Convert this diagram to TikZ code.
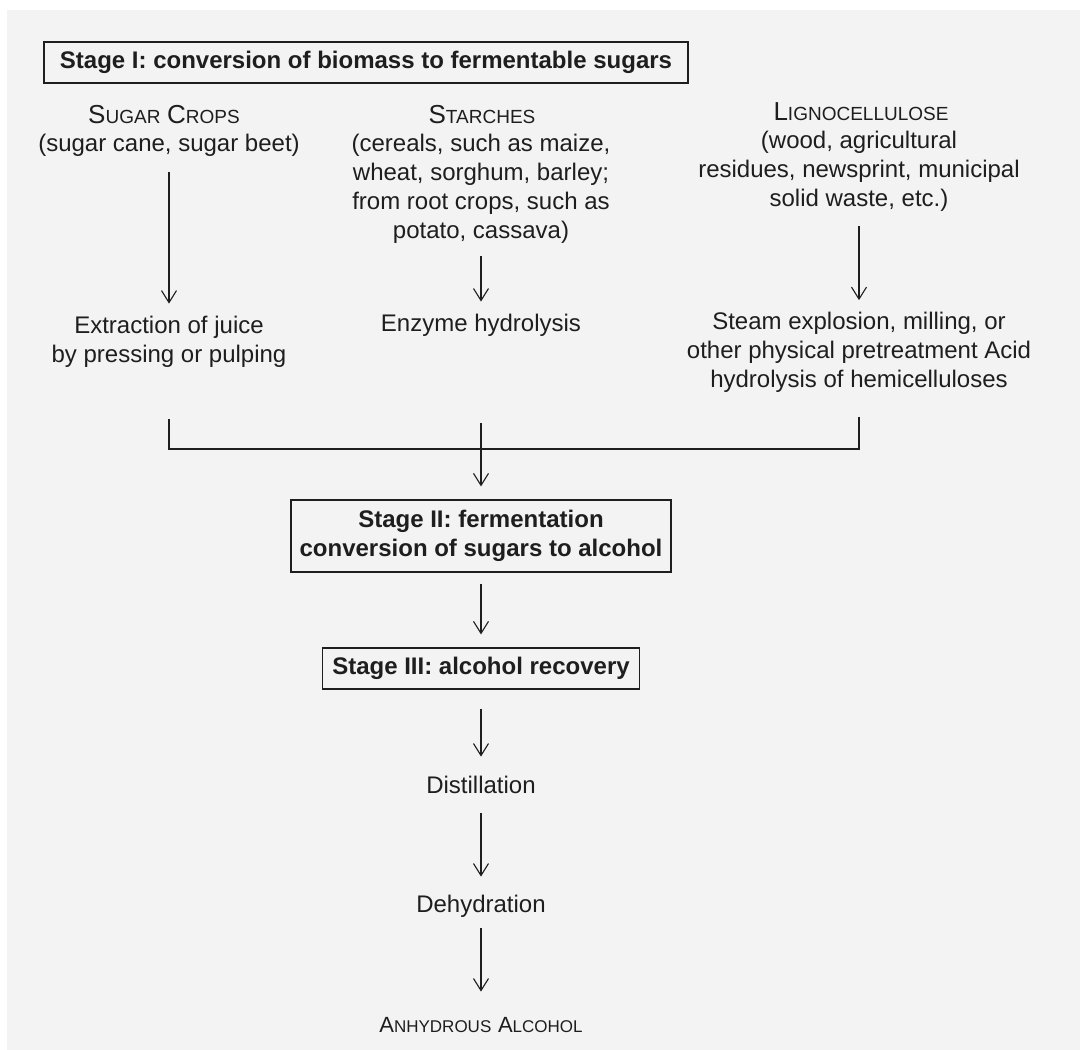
\documentclass[tikz,border=0pt]{standalone}
\usepackage{fontspec}
\setmainfont{Liberation Sans}
\usetikzlibrary{arrows.meta}
\definecolor{paper}{HTML}{F3F3F3}
\definecolor{ink}{HTML}{1E1E1E}
\newcommand{\scword}[2]{{\fontsize{26}{29}\selectfont #1}{\fontsize{19}{29}\selectfont #2}}
\newcommand{\scwordlow}[2]{{\fontsize{22}{29}\selectfont #1}{\fontsize{17}{29}\selectfont #2}}

\begin{document}
\begin{tikzpicture}[x=1pt,y=-1pt,
  txt/.style={align=center,inner sep=0pt,text=ink,font=\fontsize{24}{29}\selectfont},
  oneline/.style={txt,text height=17.5pt,text depth=5pt},
  stagebox/.style={draw=ink,line width=1.2pt,inner sep=0pt,align=center,text=ink,
    font=\fontsize{24}{29}\selectfont\bfseries},
  flow/.style={draw=ink,line width=1.1pt,-{Straight Barb[length=12pt,width=15pt]}},
  joint/.style={draw=ink,line width=1.1pt}]
\useasboundingbox (0,0) rectangle (1080,1050);
\fill[white] (0,0) rectangle (1080,1050);
\fill[paper] (7,10) rectangle (1080,1050);

\node[stagebox,minimum width=644pt,minimum height=41pt] (stageone) at (366,62.5)
  {Stage I: conversion of biomass to fermentable sugars};

\node[txt] (sugarhd) at (164,115) {\scword{S}{UGAR} \scword{C}{ROPS}};
\node[txt] (sugartxt) at (169,145) {(sugar cane, sugar beet)};
\node[txt] (starchhd) at (482,115) {\scword{S}{TARCHES}};
\node[txt] (starchtxt) at (481,188.5) {(cereals, such as maize,\\wheat, sorghum, barley;\\from root crops, such as\\potato, cassava)};
\node[txt] (lignohd) at (861,112) {\scword{L}{IGNOCELLULOSE}};
\node[txt] (lignotxt) at (859,171.5) {(wood, agricultural\\residues, newsprint, municipal\\solid waste, etc.)};

\node[txt] (extract) at (169,341.5) {Extraction of juice\\by pressing or pulping};
\node[oneline] (enzyme) at (481,325) {Enzyme hydrolysis};
\node[txt] (steam) at (859,352.5) {Steam explosion, milling, or\\other physical pretreatment Acid\\hydrolysis of hemicelluloses};

\node[stagebox,minimum width=380pt,minimum height=72pt] (stagetwo) at (481,536)
  {Stage II: fermentation\\conversion of sugars to alcohol};
\node[stagebox,minimum width=317pt,minimum height=41pt] (stagethree) at (481,668.5)
  {Stage III: alcohol recovery};

\node[oneline] (distil) at (481,787) {Distillation};
\node[oneline] (dehyd) at (481,906) {Dehydration};
\node[oneline] (anhyd) at (481,1026) {\scwordlow{A}{NHYDROUS} \scwordlow{A}{LCOHOL}};

\coordinate (joinline) at (0,449);

\draw[flow,shorten <=16pt,shorten >=12pt] (sugartxt.south) -- (extract.north);
\draw[flow,shorten <=13pt,shorten >=12pt] (starchtxt.south) -- (enzyme.north);
\draw[flow,shorten <=14pt,shorten >=12pt] (lignotxt.south) -- (steam.north);
\draw[joint,shorten <=52pt,shorten >=24pt] (extract.south) -- (extract.south |- joinline)
  -- (steam.south |- joinline) -- (steam.south);
\draw[flow,shorten <=87pt,shorten >=13pt] (enzyme.south) -- (stagetwo.north);
\draw[flow,shorten <=11pt,shorten >=13pt] (stagetwo.south) -- (stagethree.north);
\draw[flow,shorten <=19pt,shorten >=19pt] (stagethree.south) -- (distil.north);
\draw[flow,shorten <=15pt,shorten >=18pt] (distil.south) -- (dehyd.north);
\draw[flow,shorten <=11pt,shorten >=23pt] (dehyd.south) -- (anhyd.north);
\end{tikzpicture}
\end{document}
